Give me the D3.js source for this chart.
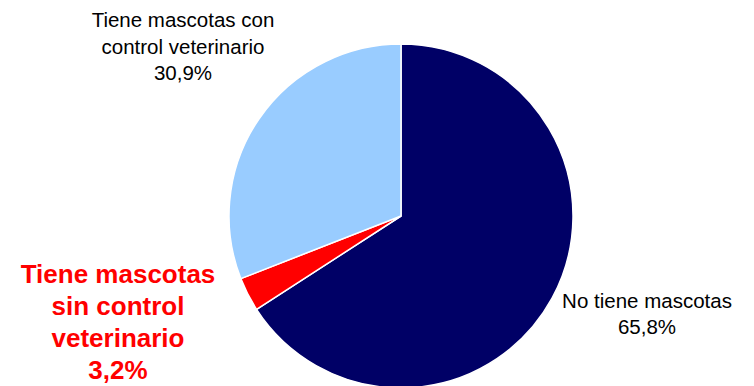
<!DOCTYPE html>
<html lang="es">
<head>
<meta charset="utf-8">
<style>
  body { margin: 0; background: #fff; }
  svg { display: block; font-family: "Liberation Sans", Arial, sans-serif; }
</style>
</head>
<body>
<svg width="754" height="386"></svg>
<script src="https://cdn.jsdelivr.net/npm/d3@7/dist/d3.min.js"></script>
<script>
var categories = ['No tiene mascotas', 'Tiene mascotas sin control veterinario', 'Tiene mascotas con control veterinario']
var values = [65.8, 3.2, 30.9]
var colors = ['#000066', '#ff0000', '#99ccff']

var svg = d3.select('svg')
var cx = 401, cy = 216, radius = 172

var pie = d3.pie().sort(null).value(function (d) { return d.value })
var arc = d3.arc().innerRadius(0).outerRadius(radius)

var data = categories.map(function (c, i) { return { name: c, value: values[i], color: colors[i] } })

var g = svg.append('g').attr('transform', 'translate(' + cx + ',' + cy + ')')

g.selectAll('path')
  .data(pie(data))
  .enter().append('path')
    .attr('d', arc)
    .attr('fill', function (d) { return d.data.color })
    .attr('stroke', '#fff')
    .attr('stroke-width', 1.5)

function fmt (v) { return String(v.toFixed(1)).replace('.', ',') + '%' }

// labels
var labels = [
  { lines: ['No tiene mascotas', fmt(values[0])], x: 647, y: 308, size: 20.5, lh: 26, color: '#000', weight: 'normal' },
  { lines: ['Tiene mascotas', 'sin control', 'veterinario', fmt(values[1])], x: 118, y: 283, size: 26, lh: 32, color: '#ff0000', weight: 'bold' },
  { lines: ['Tiene mascotas con', 'control veterinario', fmt(values[2])], x: 183, y: 27, size: 20.5, lh: 26.5, color: '#000', weight: 'normal' }
]

labels.forEach(function (l) {
  var t = svg.append('text')
    .attr('text-anchor', 'middle')
    .attr('font-size', l.size)
    .attr('font-weight', l.weight)
    .attr('fill', l.color)
  l.lines.forEach(function (line, i) {
    t.append('tspan').attr('x', l.x).attr('y', l.y + i * l.lh).text(line)
  })
})
</script>
</body>
</html>
